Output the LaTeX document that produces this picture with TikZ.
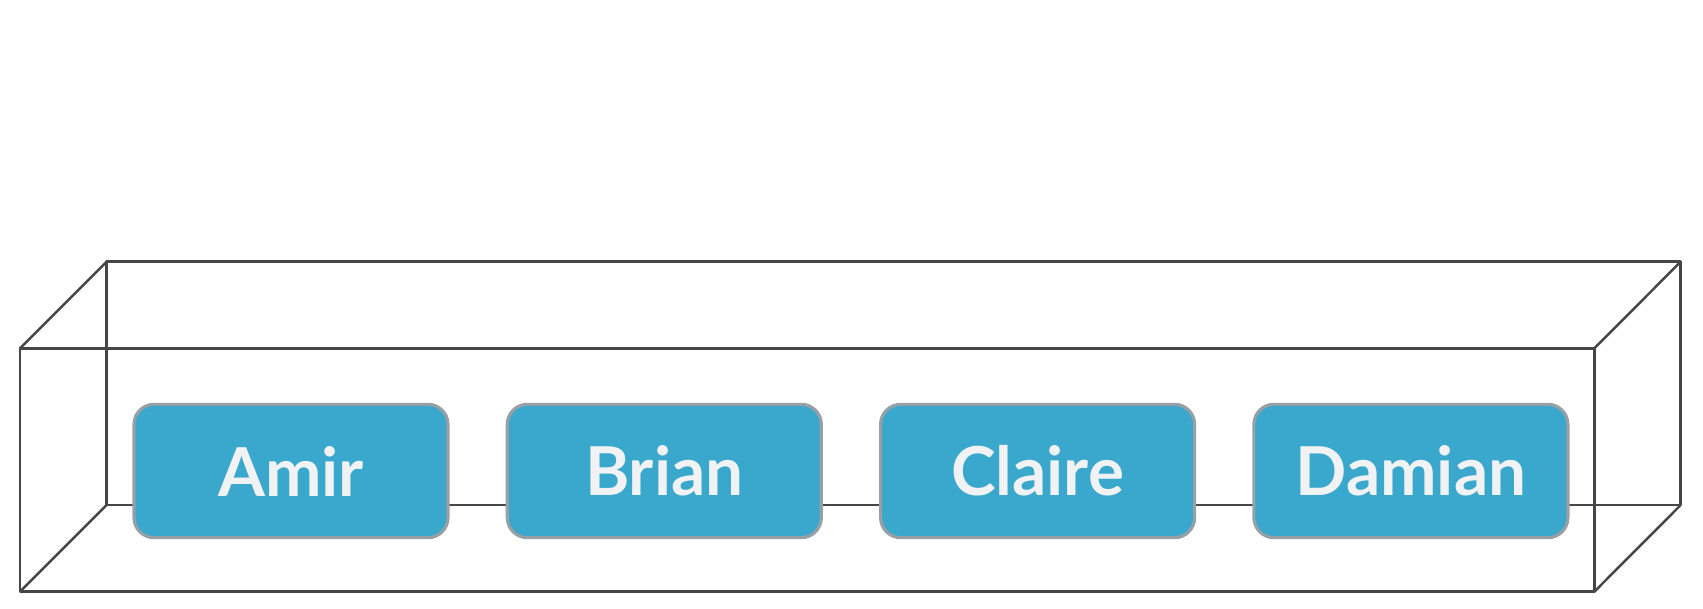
\documentclass[tikz,border=0pt]{standalone}
\usepackage{fontspec}
\setsansfont{Lato}
\definecolor{teamblue}{RGB}{57,168,204}
\definecolor{teamrim}{RGB}{150,160,166}
\definecolor{teamtext}{RGB}{240,242,243}
\definecolor{crateline}{RGB}{70,70,70}
\tikzset{every picture/.style={/utils/exec={\sffamily}}}
\usetikzlibrary{positioning}

\begin{document}
\begin{tikzpicture}[
    crate/.style={draw=crateline, line width=0.7pt, line join=round},
    member/.style={draw=teamrim, line width=0.9pt, fill=teamblue, rounded corners=0.2cm,
      minimum width=3.14cm, minimum height=1.333cm, inner sep=0pt, outer sep=0pt,
      text=teamtext, font=\fontsize{19.2}{22}\selectfont\bfseries},
  ]
  \useasboundingbox (0,0) rectangle (17.03,6.08);

  % corners of the crate
  \coordinate (fsw) at (0.20,0.163);
  \coordinate (fse) at (15.943,0.163);
  \coordinate (fne) at (15.943,2.597);
  \coordinate (fnw) at (0.20,2.597);
  \coordinate (bsw) at (1.067,1.03);
  \coordinate (bse) at (16.807,1.03);
  \coordinate (bne) at (16.807,3.463);
  \coordinate (bnw) at (1.067,3.463);

  % back of the crate
  \draw [crate] (bsw) -- (bse) -- (bne) -- (bnw) -- cycle;

  % team members
  \node [member] (amir) at (2.91,1.37) {Amir};
  \node [member, right=0.593cm of amir] (brian) {Brian};
  \node [member, right=0.593cm of brian] (claire) {Claire};
  \node [member, right=0.593cm of claire] (damian) {Damian};

  % front of the crate
  \draw [crate] (fsw) -- (fse) -- (fne) -- (fnw) -- cycle;
  \draw [crate] (fsw) -- (bsw) (fse) -- (bse) (fne) -- (bne) (fnw) -- (bnw);

\end{tikzpicture}
\end{document}
